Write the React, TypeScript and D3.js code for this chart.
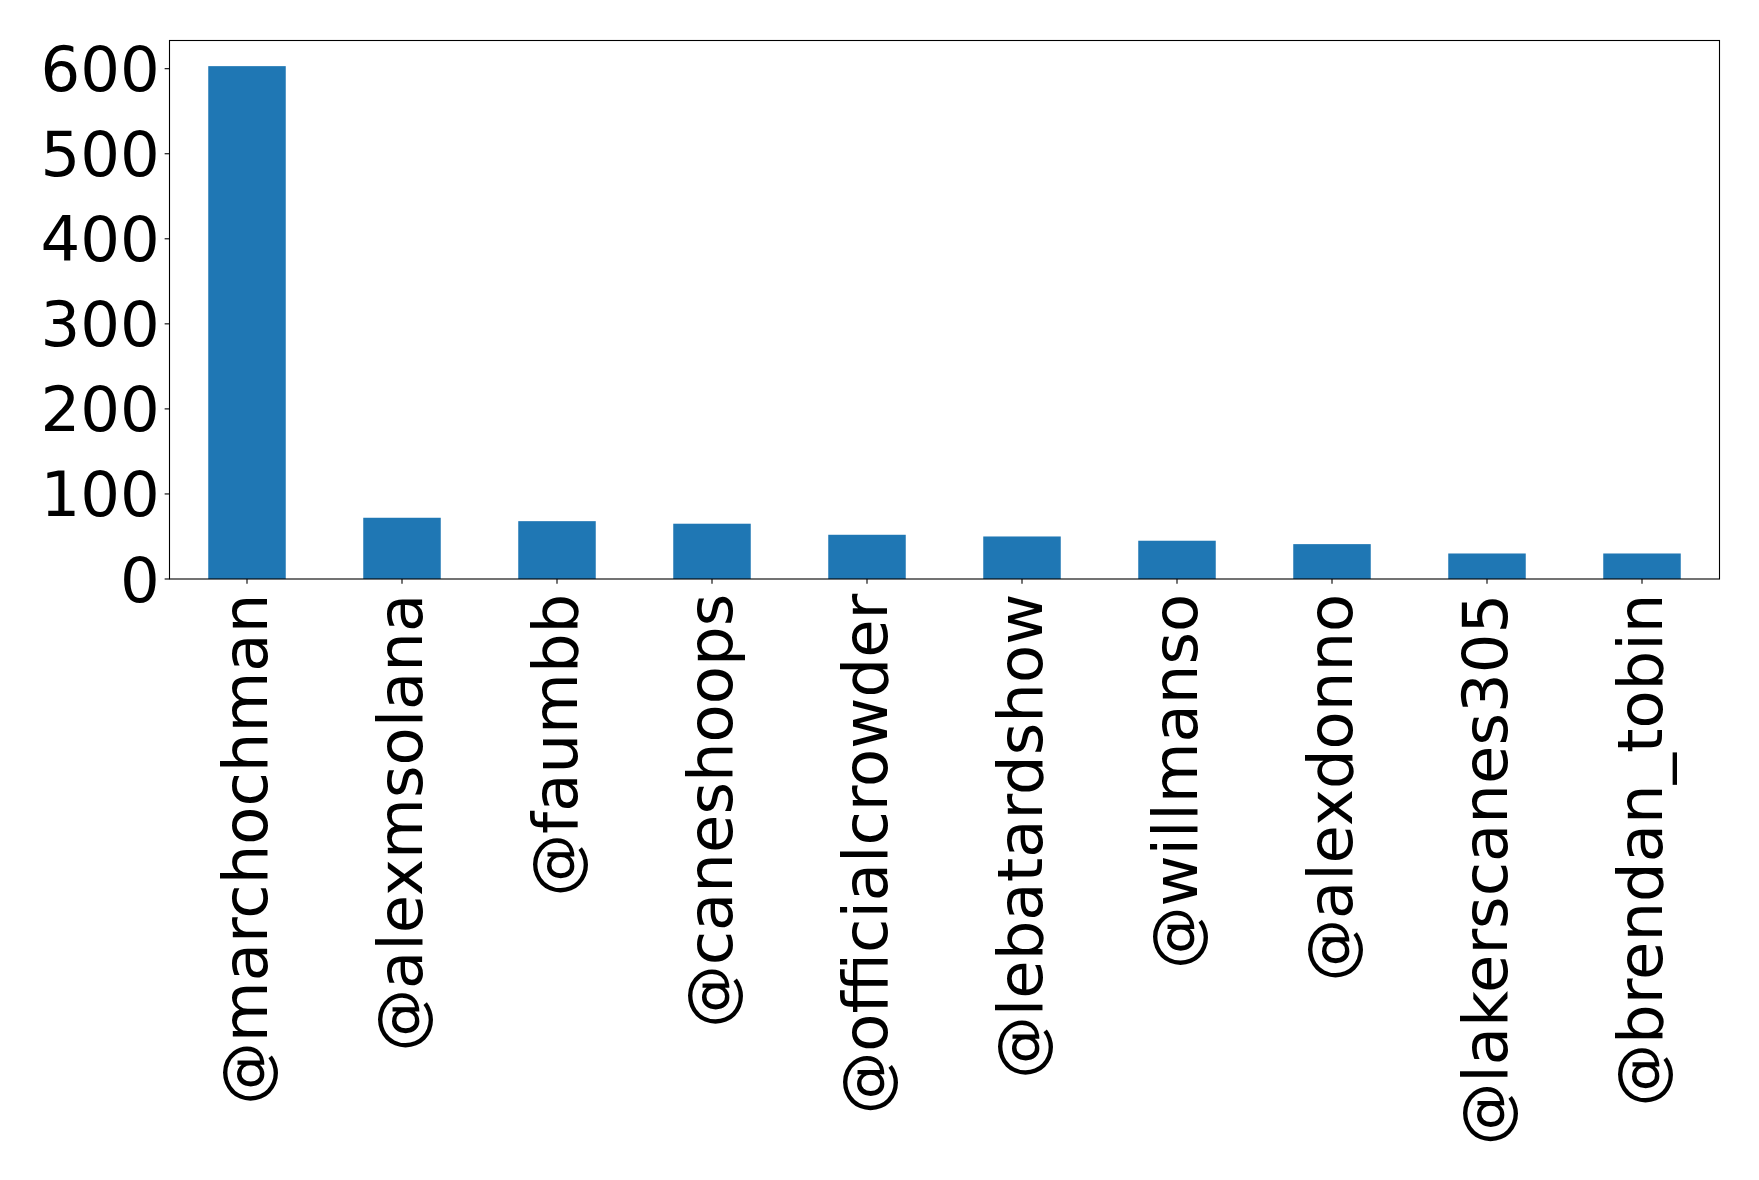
import React from "react";
import * as d3 from "d3";

const categories = [
  "@marchochman",
  "@alexmsolana",
  "@faumbb",
  "@caneshoops",
  "@officialcrowder",
  "@lebatardshow",
  "@willmanso",
  "@alexdonno",
  "@lakerscanes305",
  "@brendan_tobin",
];
const values = [603, 72, 68, 65, 52, 50, 45, 41, 30, 30];
const yTicks = [0, 100, 200, 300, 400, 500, 600];

const W = 1759;
const H = 1180;
const left = 169.5;
const right = 1719.5;
const top = 40.5;
const bottom = 579;
const FONT = "'DejaVu Sans', sans-serif";
const FS = 62.5;
const COLOR = "#1f77b4";

export default function App() {
  const x = d3
    .scaleBand<string>()
    .domain(categories)
    .range([left, right])
    .paddingInner(0.5)
    .paddingOuter(0.25);
  const yMax = d3.max(values)! * 1.05;
  const y = d3.scaleLinear().domain([0, yMax]).range([bottom, top]);
  const tickLen = 4.86;
  const pad = 4.86;

  return (
    <svg
      width={W}
      height={H}
      style={{ position: "absolute", left: 0, top: 0, background: "#fff" }}
      fontFamily={FONT}
    >
      <rect x={0} y={0} width={W} height={H} fill="#fff" />
      {categories.map((c, i) => (
        <rect
          key={c}
          x={x(c)}
          y={y(values[i])}
          width={x.bandwidth()}
          height={y(0) - y(values[i])}
          fill={COLOR}
        />
      ))}
      <rect
        x={left}
        y={top}
        width={right - left}
        height={bottom - top}
        fill="none"
        stroke="#000"
        strokeWidth={1.1}
      />
      {yTicks.map((t) => (
        <g key={t}>
          <line
            x1={left - tickLen}
            x2={left}
            y1={y(t)}
            y2={y(t)}
            stroke="#000"
            strokeWidth={1.1}
          />
          <text
            x={left - tickLen - pad}
            y={y(t)}
            dy="0.36em"
            textAnchor="end"
            fontSize={FS}
            fill="#000"
          >
            {t}
          </text>
        </g>
      ))}
      {categories.map((c) => {
        const cx = x(c)! + x.bandwidth() / 2;
        return (
          <g key={c}>
            <line
              x1={cx}
              x2={cx}
              y1={bottom}
              y2={bottom + tickLen}
              stroke="#000"
              strokeWidth={1.1}
            />
            <text
              transform={`translate(${cx},${bottom + tickLen + pad + 5}) rotate(-90)`}
              dy="0.32em"
              textAnchor="end"
              fontSize={FS}
              fill="#000"
            >
              {c}
            </text>
          </g>
        );
      })}
    </svg>
  );
}
